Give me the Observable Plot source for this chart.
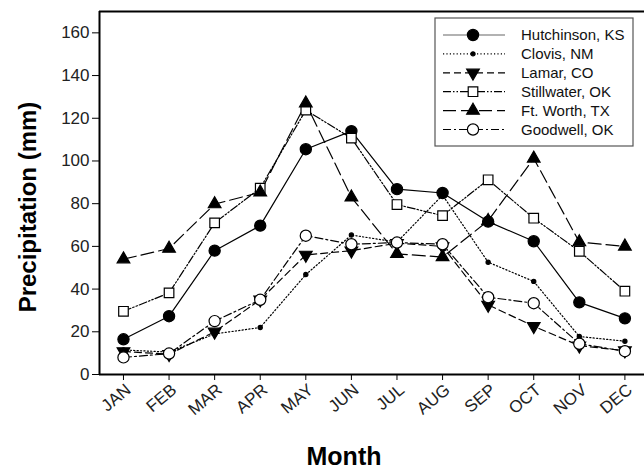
<!DOCTYPE html>
<html><head><meta charset="utf-8">
<script src="https://cdn.jsdelivr.net/npm/d3@7"></script>
<script src="https://cdn.jsdelivr.net/npm/@observablehq/plot@0.6"></script>
<style>body{margin:0;background:#fff}</style>
</head><body><div id="chart"></div>
<script>
const months = ["JAN","FEB","MAR","APR","MAY","JUN","JUL","AUG","SEP","OCT","NOV","DEC"];
const yTicks = [0,20,40,60,80,100,120,140,160];
const seriesNames = ["Hutchinson, KS","Clovis, NM","Lamar, CO","Stillwater, OK","Ft. Worth, TX","Goodwell, OK"];
const hutchinson = [16.5,27.3,58,69.7,105.5,114,86.8,85,71.6,62.4,33.8,26.3];
const clovis     = [11.5,10.5,19,22,46.8,65.3,62,84,52.6,43.6,17.8,15.6];
const lamar      = [10.8,9.5,20,35,56,58,61.5,60,32.6,22.6,13.5,11.2];
const stillwater = [29.6,38.2,71,87.3,123.8,110.7,79.6,74.4,91.2,73.2,57.7,39];
const ftWorth    = [54,59,79.8,85.3,127,83,56.5,55,72,101.2,62,60];
const goodwell   = [8,9.8,25,35,65,61,61.8,61,36.2,33.4,14.4,10.9];

const seriesValues = [hutchinson, clovis, lamar, stillwater, ftWorth, goodwell];
// styles (kept separate from data)
const seriesStyle = [
  {dash: null, symbol: "circle", fill: "black", r: 5.6, rotate: 0, legendStroke: "#999"},
  {dash: "1.2,2.2", symbol: "circle", fill: "black", r: 2.1, rotate: 0, legendStroke: "black"},
  {dash: "7,4", symbol: "triangle", fill: "black", r: 4.7, rotate: 180, legendStroke: "black"},
  {dash: "8,2,1.5,2,1.5,2", symbol: "square", fill: "white", r: 5.4, rotate: 0, legendStroke: "black"},
  {dash: "13,5", symbol: "triangle", fill: "black", r: 4.7, rotate: 0, legendStroke: "black"},
  {dash: "8,3,2,3", symbol: "circle", fill: "white", r: 5.6, rotate: 0, legendStroke: "black"}
];

const table = seriesNames.flatMap((name, s) =>
  seriesValues[s].map((v, i) => ({series: name, m: i, v})));

const xDomain = [-0.526, 11.43];
const yDomain = [0, 170];

const marks = [];
marks.push(Plot.ruleY([yDomain[1]], {stroke: "black", strokeWidth: 2}));
marks.push(Plot.ruleY([0], {stroke: "black", strokeWidth: 2}));
marks.push(Plot.ruleX([xDomain[0]], {stroke: "black", strokeWidth: 2}));

seriesNames.forEach((name, s) => {
  const st = seriesStyle[s];
  const d = table.filter(r => r.series === name);
  marks.push(Plot.line(d, {x: "m", y: "v", stroke: "black", strokeWidth: 1.2,
    strokeDasharray: st.dash || undefined}));
});
seriesNames.forEach((name, s) => {
  const st = seriesStyle[s];
  const d = table.filter(r => r.series === name);
  marks.push(Plot.dot(d, {x: "m", y: "v", symbol: st.symbol, r: st.r, fill: st.fill,
    stroke: "black", strokeWidth: 1.2, rotate: st.rotate}));
});

marks.push(Plot.axisY({ticks: yTicks, tickSize: 7, tickPadding: 3, fontSize: 17,
  fill: "#222", stroke: "black", label: null}));
marks.push(Plot.axisX({ticks: d3.range(12), tickSize: 6, text: null, stroke: "black", label: null}));
marks.push(Plot.axisX({ticks: d3.range(12), tickFormat: i => months[i], tickSize: 0,
  tickPadding: 13, dx: 5, tickRotate: -40, fontSize: 17, fill: "#222", label: null}));

marks.push(Plot.text(["Precipitation (mm)"], {frameAnchor: "left", rotate: -90,
  textAnchor: "middle", lineAnchor: "middle",
  dx: -71, dy: 14, fontSize: 24, fontWeight: "bold", fill: "black"}));
marks.push(Plot.text(["Month"], {frameAnchor: "bottom", textAnchor: "middle", lineAnchor: "middle",
  dx: -28, dy: 82, fontSize: 25, fontWeight: "bold", fill: "black"}));

// legend
marks.push((index, scales, values, dims) => {
  const g = d3.create("svg:g");
  const x0 = dims.width - 209, y0 = 18, w = 198, h = 128;
  g.append("rect").attr("x", x0).attr("y", y0).attr("width", w).attr("height", h)
    .attr("fill", "white").attr("stroke", "#555").attr("stroke-width", 1.2);
  seriesNames.forEach((name, s) => {
    const st = seriesStyle[s];
    const cy = y0 + 17 + s * 18.9;
    g.append("line").attr("x1", x0 + 8).attr("x2", x0 + 70).attr("y1", cy).attr("y2", cy)
      .attr("stroke", st.legendStroke).attr("stroke-width", s === 0 ? 1.6 : 1.2)
      .attr("stroke-dasharray", st.dash);
    const type = st.symbol === "circle" ? d3.symbolCircle : st.symbol === "square" ? d3.symbolSquare : d3.symbolTriangle;
    g.append("path").attr("d", d3.symbol(type, Math.PI * st.r * st.r)())
      .attr("transform", `translate(${x0 + 38},${cy}) rotate(${st.rotate})`)
      .attr("fill", st.fill).attr("stroke", "black").attr("stroke-width", 1.2);
    g.append("text").attr("x", x0 + 86).attr("y", cy).attr("dy", "0.35em")
      .attr("text-anchor", "start")
      .attr("font-size", 15).attr("fill", "#111").text(name);
  });
  return g.node();
});

const chart = Plot.plot({
  width: 644, height: 473,
  marginLeft: 99, marginRight: 0, marginTop: 11, marginBottom: 99,
  style: {fontFamily: "'Liberation Sans', Arial, sans-serif", background: "white"},
  x: {type: "linear", domain: xDomain},
  y: {domain: yDomain},
  marks
});
document.getElementById("chart").appendChild(chart);
</script>
</body></html>
